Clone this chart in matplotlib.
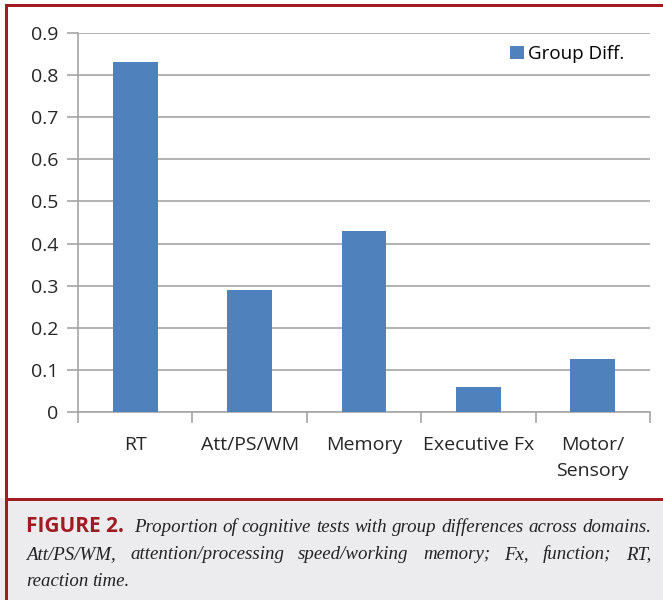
import matplotlib.pyplot as plt
from matplotlib.patches import Rectangle

categories = ["RT", "Att/PS/WM", "Memory", "Executive Fx", "Motor/\nSensory"]
group_diff = [0.83, 0.29, 0.43, 0.06, 0.125]
yticks = [0, 0.1, 0.2, 0.3, 0.4, 0.5, 0.6, 0.7, 0.8, 0.9]
ytick_labels = ["0", "0.1", "0.2", "0.3", "0.4", "0.5", "0.6", "0.7", "0.8", "0.9"]

caption_head = "FIGURE 2."
caption_lines = [
    "Proportion of cognitive tests with group differences across domains.",
    "Att/PS/WM, attention/processing speed/working memory; Fx, function; RT,",
    "reaction time.",
]

W, H = 663, 600
fig = plt.figure(figsize=(W / 100, H / 100), dpi=100)
red = "#a01c22"
blue = "#4f81bd"
grid = "#a6a6a6"

# frame and caption box
fig.patches.append(Rectangle((0, 0), 1, 1 - 498 / H, transform=fig.transFigure,
                             facecolor="#ececee", edgecolor="none", zorder=0))
fig.patches.append(Rectangle((5 / W, 1 - 501 / H), 1, 3 / H, transform=fig.transFigure,
                             facecolor=red, edgecolor="none", zorder=1))
fig.patches.append(Rectangle((5 / W, 1 - 7 / H), 1, 3 / H, transform=fig.transFigure,
                             facecolor=red, edgecolor="none", zorder=1))
fig.patches.append(Rectangle((5 / W, 0), 3 / W, 1 - 4 / H, transform=fig.transFigure,
                             facecolor=red, edgecolor="none", zorder=1))

ax = fig.add_axes([78 / W, 1 - 412 / H, (650 - 78) / W, (412 - 33) / H])
x = list(range(len(categories)))
ax.bar(x, group_diff, width=0.39, color=blue, label="Group Diff.", zorder=3)
ax.set_xlim(-0.5, len(categories) - 0.5)
ax.set_ylim(0, 0.9)
ax.set_yticks(yticks)
ax.set_yticklabels(ytick_labels)
ax.yaxis.grid(True, color=grid, linewidth=1.2, zorder=0)
ax.set_axisbelow(True)
for s in ["top", "right"]:
    ax.spines[s].set_visible(False)
for s in ["left", "bottom"]:
    ax.spines[s].set_color(grid)
    ax.spines[s].set_linewidth(1.2)

ax.set_xticks([i - 0.5 for i in range(len(categories) + 1)])
ax.set_xticklabels([])
ax.set_xticks(x, minor=True)
ax.set_xticklabels(categories, minor=True, fontsize=14, family="Open Sans",
                   color="#262626", linespacing=1.6, va="top")
ax.tick_params(axis="x", which="major", length=8, width=1.2, color=grid)
ax.tick_params(axis="x", which="minor", length=0, pad=17)
ax.tick_params(axis="y", length=8, width=1.2, color=grid, labelsize=14,
               labelcolor="#262626", pad=6)
for lab in ax.get_yticklabels():
    lab.set_family("Open Sans")

leg = ax.legend(loc="upper right", bbox_to_anchor=(0.985, 1.012), frameon=False,
                prop={"family": "Open Sans", "size": 13.5}, handlelength=0.7,
                handleheight=0.7, handletextpad=0.25)

# caption, justified
renderer = fig.canvas.get_renderer()
left_px, right_px = 26, 651
serif = dict(family="Liberation Serif", style="italic", size=13.6, color="#222222")
head = fig.text(left_px / W, 1 - 532 / H, caption_head, family="Open Sans",
                weight="bold", size=15, color=red, va="baseline")
line_y = [532, 559, 586]
for i, line in enumerate(caption_lines):
    start = 134 if i == 0 else left_px
    words = line.split(" ")
    texts = [fig.text(0, 1 - line_y[i] / H, w, va="baseline", **serif) for w in words]
    widths = [t.get_window_extent(renderer).width for t in texts]
    if i < len(caption_lines) - 1 and len(words) > 1:
        gap = (right_px - start - sum(widths)) / (len(words) - 1)
    else:
        gap = 4
    pos = start
    for t, w in zip(texts, widths):
        t.set_x(pos / W)
        pos += w + gap

fig.savefig("out.png", dpi=100)
